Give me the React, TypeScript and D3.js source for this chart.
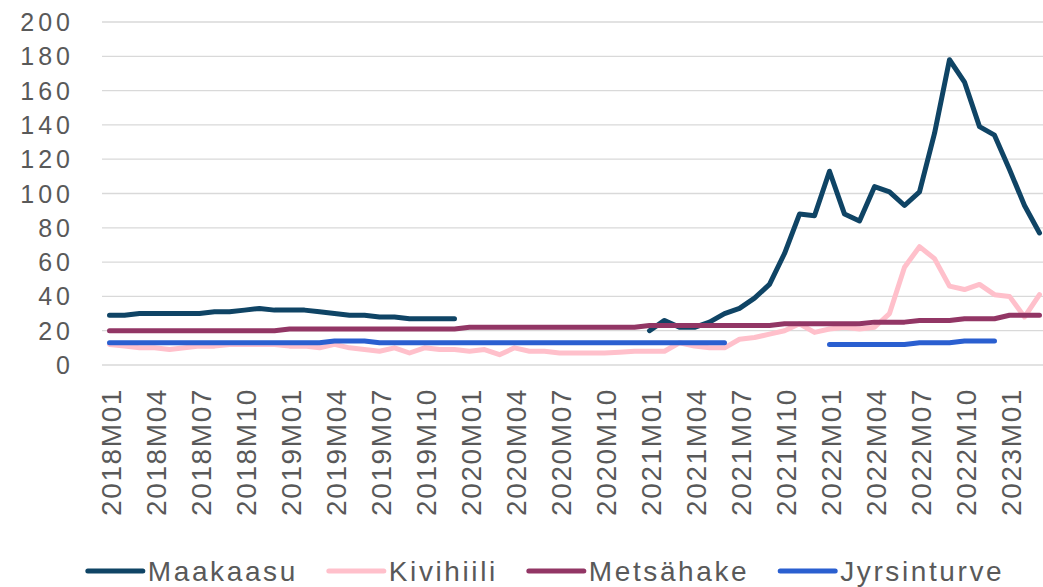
import { useEffect, useRef } from 'react';
import * as d3 from 'd3';

// Months 2018M01 .. 2023M03
const MONTHS: string[] = [];
for (let y = 2018; y <= 2023; y++) {
  for (let m = 1; m <= 12; m++) {
    if (y === 2023 && m > 3) break;
    MONTHS.push(`${y}M${m < 10 ? '0' + m : m}`);
  }
}

const MAAKAASU: (number | null)[] = [
  29, 29, 30, 30, 30, 30, 30, 31, 31, 32, 33, 32,
  32, 32, 31, 30, 29, 29, 28, 28, 27, 27, 27, 27,
  null, null, null, null, null, null, null, null, null, null, null, null,
  20, 26, 22, 22, 25, 30, 33, 39, 47, 65, 88, 87,
  113, 88, 84, 104, 101, 93, 101, 135, 178, 165, 139, 134,
  114, 93, 77,
];

const KIVIHIILI: (number | null)[] = [
  12, 11, 10, 10, 9, 10, 11, 11, 12, 12, 12, 12,
  11, 11, 10, 12, 10, 9, 8, 10, 7, 10, 9, 9,
  8, 9, 6, 10, 8, 8, 7, 7, 7, 7, 7.5, 8,
  8, 8, 13, 11, 10, 10, 15, 16, 18, 20, 24, 19,
  21, 22, 21, 22, 30, 57, 69, 62, 46, 44, 47, 41,
  40, 28, 41,
];

const METSAHAKE: (number | null)[] = [
  20, 20, 20, 20, 20, 20, 20, 20, 20, 20, 20, 20,
  21, 21, 21, 21, 21, 21, 21, 21, 21, 21, 21, 21,
  22, 22, 22, 22, 22, 22, 22, 22, 22, 22, 22, 22,
  23, 23, 23, 23, 23, 23, 23, 23, 23, 24, 24, 24,
  24, 24, 24, 25, 25, 25, 26, 26, 26, 27, 27, 27,
  29, 29, 29,
];

const JYRSINTURVE: (number | null)[] = [
  13, 13, 13, 13, 13, 13, 13, 13, 13, 13, 13, 13,
  13, 13, 13, 14, 14, 14, 13, 13, 13, 13, 13, 13,
  13, 13, 13, 13, 13, 13, 13, 13, 13, 13, 13, 13,
  13, 13, 13, 13, 13, 13, null, null, null, null, null, null,
  12, 12, 12, 12, 12, 12, 13, 13, 13, 14, 14, 14,
  null, null, null,
];

const SERIES_NAMES = ['Maakaasu', 'Kivihiili', 'Metsähake', 'Jyrsinturve'];
const SERIES_VALUES = [MAAKAASU, KIVIHIILI, METSAHAKE, JYRSINTURVE];
const SERIES_COLORS = ['#0f4465', '#ffc0cb', '#923665', '#2a5fd0'];

const Y_TICKS = [0, 20, 40, 60, 80, 100, 120, 140, 160, 180, 200];

const WIDTH = 1043;
const HEIGHT = 587;
const FONT = '"Liberation Sans", Arial, sans-serif';
const TEXT_COLOR = '#595959';

export default function App() {
  const svgRef = useRef<SVGSVGElement>(null);

  useEffect(() => {
    if (!svgRef.current) return;
    const svg = d3.select(svgRef.current);
    svg.selectAll('*').remove();

    const left = 102;
    const step = 15;
    const x = d3.scaleBand<string>().domain(MONTHS).range([left, left + MONTHS.length * step]);
    const cx = (m: string) => (x(m) ?? 0) + x.bandwidth() / 2;
    const y = d3.scaleLinear().domain([0, 200]).range([365, 22]);

    // gridlines
    svg.append('g')
      .selectAll('line')
      .data(Y_TICKS)
      .join('line')
      .attr('x1', left).attr('x2', WIDTH)
      .attr('y1', d => y(d)).attr('y2', d => y(d))
      .attr('stroke', '#d9d9d9')
      .attr('stroke-width', 1.3);

    // y labels
    svg.append('g')
      .selectAll('text')
      .data(Y_TICKS)
      .join('text')
      .attr('x', 74)
      .attr('y', d => y(d))
      .attr('dy', '0.36em')
      .attr('text-anchor', 'end')
      .attr('font-family', FONT)
      .attr('font-size', '25px')
      .attr('letter-spacing', '4px')
      .attr('fill', TEXT_COLOR)
      .text(d => d);

    // x labels every 3 months
    const xLabels = MONTHS.filter((_, i) => i % 3 === 0);
    svg.append('g')
      .selectAll('text')
      .data(xLabels)
      .join('text')
      .attr('transform', d => `translate(${cx(d) + 1},388) rotate(-90)`)
      .attr('dy', '0.36em')
      .attr('text-anchor', 'end')
      .attr('font-family', FONT)
      .attr('font-size', '28px')
      .attr('letter-spacing', '1.6px')
      .attr('fill', TEXT_COLOR)
      .text(d => d);

    // lines
    const line = d3.line<number | null>()
      .defined(d => d != null)
      .x((_, i) => cx(MONTHS[i]))
      .y(d => y(d as number));

    SERIES_VALUES.forEach((vals, i) => {
      svg.append('path')
        .datum(vals)
        .attr('fill', 'none')
        .attr('stroke', SERIES_COLORS[i])
        .attr('stroke-width', 5)
        .attr('stroke-linejoin', 'round')
        .attr('stroke-linecap', 'round')
        .attr('d', line);
    });

    // legend
    const legend = svg.append('g').attr('transform', 'translate(0,571)');
    const lineLen = 55;
    const items = SERIES_NAMES.map((name, i) => {
      const g = legend.append('g');
      g.append('line')
        .attr('x1', 0).attr('x2', lineLen)
        .attr('y1', 0).attr('y2', 0)
        .attr('stroke', SERIES_COLORS[i])
        .attr('stroke-width', 5)
        .attr('stroke-linecap', 'round');
      const t = g.append('text')
        .attr('x', lineLen + 5)
        .attr('dy', '0.34em')
        .attr('font-family', FONT)
        .attr('font-size', '28px')
        .attr('letter-spacing', '2.6px')
        .attr('fill', TEXT_COLOR)
        .text(name);
      const w = (t.node() as SVGTextElement).getComputedTextLength();
      return { g, w: lineLen + 5 + w };
    });
    const gap = 31;
    const total = d3.sum(items, d => d.w) + gap * (items.length - 1);
    let pos = 546 - total / 2;
    items.forEach(it => {
      it.g.attr('transform', `translate(${pos},0)`);
      pos += it.w + gap;
    });
  }, []);

  return (
    <svg
      ref={svgRef}
      width={WIDTH}
      height={HEIGHT}
      style={{ position: 'absolute', left: 0, top: 0, background: '#fff', display: 'block' }}
    />
  );
}
